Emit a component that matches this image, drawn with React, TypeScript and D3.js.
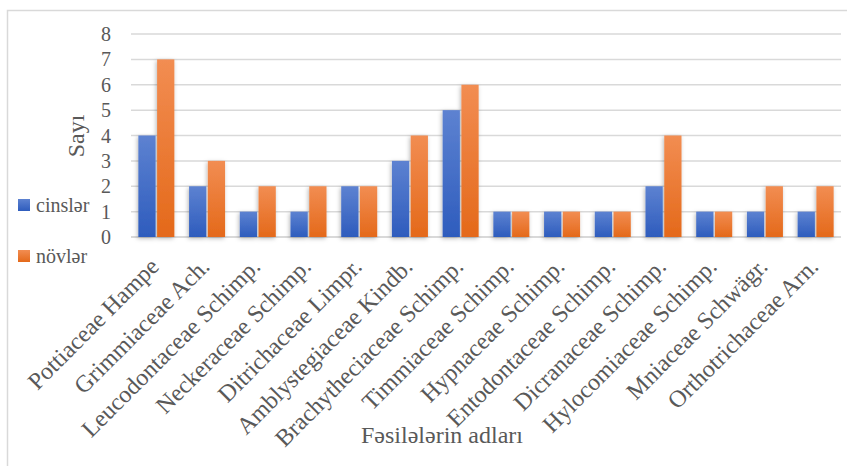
import React from "react";
import * as d3 from "d3";

const categories = [
  "Pottiaceae Hampe",
  "Grimmiaceae Ach.",
  "Leucodontaceae Schimp.",
  "Neckeraceae Schimp.",
  "Ditrichaceae Limpr.",
  "Amblystegiaceae Kindb.",
  "Brachytheciaceae Schimp.",
  "Timmiaceae Schimp.",
  "Hypnaceae Schimp.",
  "Entodontaceae Schimp.",
  "Dicranaceae Schimp.",
  "Hylocomiaceae Schimp.",
  "Mniaceae Schwägr.",
  "Orthotrichaceae Arn.",
];

const cinsler = [4, 2, 1, 1, 2, 3, 5, 1, 1, 1, 2, 1, 1, 1];
const novler = [7, 3, 2, 2, 2, 4, 6, 1, 1, 1, 4, 1, 2, 2];

const seriesNames = ["cinslər", "növlər"];
const yTicks = [0, 1, 2, 3, 4, 5, 6, 7, 8];

const W = 847;
const H = 466;
const FONT = "Liberation Serif";
const TEXT = "#595959";
const GRID = "#d9d9d9";

export default function App() {
  const y = d3.scaleLinear().domain([0, 8]).range([237, 34]);
  const x0 = d3
    .scaleBand<string>()
    .domain(categories)
    .range([131, 841])
    .paddingInner(0.29)
    .paddingOuter(0.145);
  const x1 = d3
    .scaleBand<string>()
    .domain(seriesNames)
    .range([0, x0.bandwidth()])
    .paddingInner(0.08);

  const values = [cinsler, novler];
  const gradIds = ["gBlue", "gOrange"];

  return (
    <svg
      width={W}
      height={H}
      style={{ position: "absolute", left: 0, top: 0, background: "#fff" }}
    >
      <defs>
        <linearGradient id="gBlue" x1="0" y1="0" x2="0" y2="1">
          <stop offset="0%" stopColor="#5d82d1" />
          <stop offset="100%" stopColor="#2e5cbd" />
        </linearGradient>
        <linearGradient id="gOrange" x1="0" y1="0" x2="0" y2="1">
          <stop offset="0%" stopColor="#f28d52" />
          <stop offset="100%" stopColor="#e4691a" />
        </linearGradient>
        <filter id="barShadow" x="-50%" y="-20%" width="200%" height="140%">
          <feDropShadow dx="-1" dy="1.5" stdDeviation="2" floodColor="#000" floodOpacity="0.28" />
        </filter>
      </defs>

      <rect x={7.5} y={10.5} width={W} height={H} fill="#fff" stroke={GRID} strokeWidth={1.5} />

      {/* gridlines */}
      {yTicks.map((t) => (
        <line
          key={t}
          x1={131}
          x2={841}
          y1={y(t)}
          y2={y(t)}
          stroke={GRID}
          strokeWidth={t === 0 ? 2 : 1.5}
        />
      ))}

      {/* y tick labels */}
      {yTicks.map((t) => (
        <text
          key={"yl" + t}
          x={111}
          y={y(t)}
          dy="0.35em"
          textAnchor="end"
          fontFamily={FONT}
          fontSize={20}
          fill={TEXT}
        >
          {t}
        </text>
      ))}

      {/* bars */}
      <g filter="url(#barShadow)">
        {categories.map((c, i) =>
          seriesNames.map((s, k) => {
            const v = values[k][i];
            return (
              <rect
                key={c + s}
                x={(x0(c) ?? 0) + (x1(s) ?? 0)}
                y={y(v)}
                width={x1.bandwidth()}
                height={y(0) - y(v)}
                fill={`url(#${gradIds[k]})`}
              />
            );
          })
        )}
      </g>

      {/* category labels */}
      {categories.map((c) => {
        const cx = (x0(c) ?? 0) + x0.bandwidth() / 2 + 4;
        return (
          <text
            key={"xl" + c}
            transform={`translate(${cx},${268}) rotate(-45)`}
            textAnchor="end"
            fontFamily={FONT}
            fontSize={24}
            fill={TEXT}
          >
            {c}
          </text>
        );
      })}

      {/* axis titles */}
      <text
        transform="translate(84,136) rotate(-90)"
        textAnchor="middle"
        fontFamily={FONT}
        fontSize={24}
        fill={TEXT}
      >
        Sayı
      </text>
      <text
        x={442}
        y={443}
        textAnchor="middle"
        fontFamily={FONT}
        fontSize={24}
        fill={TEXT}
      >
        Fəsilələrin adları
      </text>

      {/* legend */}
      {seriesNames.map((s, k) => (
        <g key={"lg" + s} transform={`translate(18,${199 + k * 51})`}>
          <rect width={12} height={12} fill={`url(#${gradIds[k]})`} />
          <text x={18} y={13} fontFamily={FONT} fontSize={20} fill={TEXT}>
            {s}
          </text>
        </g>
      ))}
    </svg>
  );
}
